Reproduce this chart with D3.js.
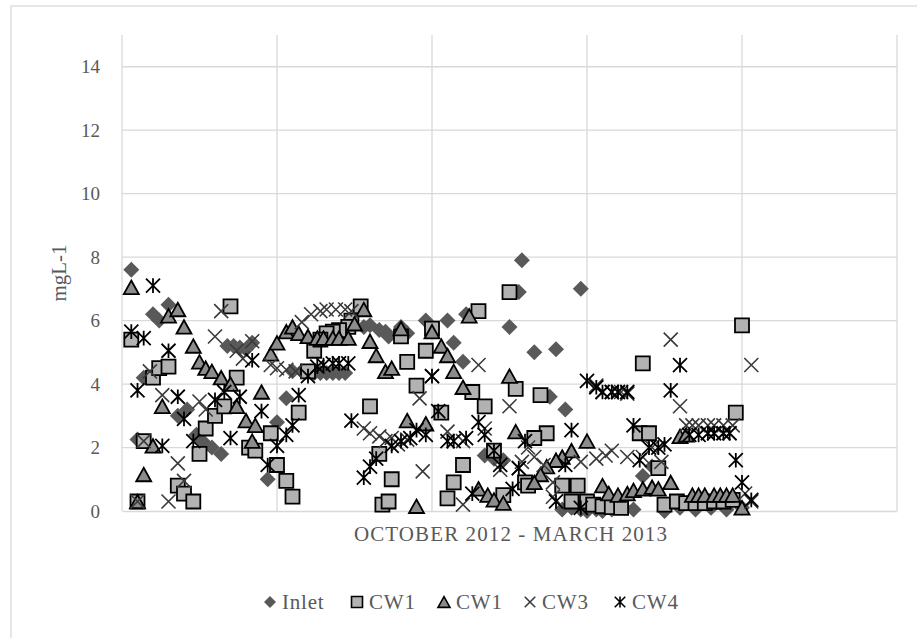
<!DOCTYPE html>
<html>
<head>
<meta charset="utf-8">
<script src="https://cdn.jsdelivr.net/npm/d3@7"></script>
<style>
  body { margin: 0; background: #fff; }
  svg text { font-family: "Liberation Serif", "DejaVu Serif", serif; fill: #595959; }
</style>
</head>
<body>
<svg id="chart" width="917" height="638"></svg>
<script>
// series values as [day, mg/L]
const inlet = [[3,7.6],[5,2.25],[7,4.2],[10,6.2],[12,6.0],[15,6.5],[18,3.0],[21,3.2],[24,2.4],[26,2.2],[29,2.0],[32,1.8],
  [34,5.2],[36,5.2],[38,5.15],[40,5.1],[42,5.3],[47,1.0],[50,2.8],[53,3.55],[55,4.4],[58,4.4],[62,4.35],[64,4.35],[66,4.35],
  [68,4.35],[70,4.35],[72,4.35],[78,5.8],[80,5.85],[83,5.7],[85,5.65],[86,5.5],[90,5.8],[92,5.6],[98,6.0],[105,6.0],[107,5.3],
  [110,4.7],[111,6.2],[117,1.75],[120,1.65],[123,1.6],[125,5.8],[129,7.9],[128,6.9],[133,5.0],[138,3.6],[140,5.1],[143,3.2],
  [148,7.0],[168,1.1],[171,1.4],[142,0.05],[145,0.1],[148,0.05],[150,0.0],[153,0.05],[155,0.0],[158,0.05],[162,0.1],[165,0.05],
  [175,0.0],[180,0.1],[185,0.05],[190,0.1],[195,0.05],[200,0.1]];

const cw1Square = [[3,5.4],[35,6.45],[10,4.2],[12,4.5],[15,4.55],[7,2.2],[5,0.3],[18,0.8],[20,0.55],[23,0.3],[25,1.8],[27,2.6],
  [30,3.0],[33,3.3],[37,4.2],[41,2.0],[60,4.4],[62,5.05],[57,3.1],[48,2.45],[43,1.9],[50,1.45],[53,0.95],[55,0.45],[77,6.45],
  [74,6.0],[73,5.8],[70,5.7],[68,5.65],[66,5.6],[64,5.4],[80,3.3],[83,1.8],[84,0.2],[125,6.9],[115,6.3],[100,5.75],[98,5.05],
  [92,4.7],[90,5.5],[95,3.95],[117,3.3],[127,3.85],[113,3.75],[103,3.1],[110,1.45],[107,0.9],[105,0.4],[87,1.0],[86,0.3],
  [120,1.9],[123,0.5],[130,0.9],[168,4.65],[135,3.65],[137,2.45],[133,2.3],[167,2.45],[170,2.45],[131,0.8],[142,0.8],[147,0.8],
  [145,0.3],[150,0.3],[152,0.2],[155,0.15],[158,0.12],[161,0.1],[200,5.85],[198,3.1],[173,1.35],[175,0.2],[179,0.3],[182,0.25],
  [185,0.25],[188,0.25],[191,0.3],[194,0.3],[197,0.35]];

const cw1Triangle = [[3,7.05],[15,6.15],[18,6.35],[20,5.8],[23,5.2],[25,4.7],[27,4.5],[29,4.4],[32,4.2],[35,4.0],[37,3.3],
  [40,2.85],[42,2.2],[13,3.3],[10,2.05],[7,1.15],[5,0.3],[45,3.75],[48,4.95],[50,5.3],[53,5.65],[55,5.8],[57,5.6],[60,5.5],
  [63,5.45],[65,5.45],[68,5.45],[70,5.45],[73,5.45],[75,5.9],[78,6.35],[80,5.35],[82,4.9],[85,4.4],[43,2.7],[90,5.75],[87,4.5],
  [100,5.65],[103,5.2],[105,4.9],[107,4.4],[110,3.9],[112,6.15],[125,4.25],[92,2.85],[98,2.75],[95,0.15],[127,2.5],[115,0.7],
  [118,0.5],[120,0.35],[123,0.25],[150,2.2],[145,1.9],[142,1.7],[140,1.6],[137,1.4],[135,1.15],[133,0.9],[155,0.8],[157,0.55],
  [160,0.5],[163,0.55],[165,0.65],[168,0.7],[171,0.75],[180,2.35],[182,2.4],[177,0.9],[173,0.7],[184,0.5],[186,0.5],[188,0.5],
  [191,0.5],[193,0.5],[195,0.5],[197,0.5],[200,0.1]];

const cw3 = [[32,6.3],[30,5.5],[9,4.4],[13,3.65],[18,1.5],[20,0.95],[15,0.3],[7,2.2],[5,0.3],[25,3.45],[27,3.2],[37,5.05],
  [39,4.8],[58,5.95],[61,6.2],[64,6.3],[66,6.35],[69,6.35],[72,6.35],[74,6.3],[42,5.35],[48,4.6],[50,4.5],[53,4.45],[56,4.4],
  [78,2.6],[80,2.45],[83,2.35],[85,2.2],[115,4.6],[100,4.25],[96,3.55],[125,3.3],[97,1.25],[87,2.3],[89,2.1],[92,2.25],
  [105,2.5],[110,2.2],[117,2.6],[122,1.3],[128,1.35],[110,0.2],[131,2.0],[133,1.7],[129,1.55],[136,1.45],[139,0.9],[139,0.45],
  [148,1.55],[153,1.65],[156,1.75],[158,1.9],[163,1.7],[168,1.7],[153,3.95],[155,3.75],[158,3.75],[161,3.75],[163,3.7],
  [177,5.4],[203,4.6],[180,3.3],[182,2.7],[184,2.7],[186,2.7],[189,2.7],[191,2.7],[194,2.7],[197,2.7],[171,2.0],[174,1.55],
  [201,0.55],[203,0.3]];

const cw4 = [[10,7.1],[3,5.65],[7,5.45],[15,5.05],[5,3.8],[18,3.6],[20,2.9],[13,2.05],[23,2.2],[30,3.5],[33,3.75],[35,2.3],
  [38,3.6],[45,3.15],[42,4.75],[47,1.45],[50,2.05],[53,2.4],[55,2.7],[57,3.65],[60,4.25],[63,4.55],[65,4.6],[68,4.65],[70,4.65],
  [73,4.65],[74,2.85],[78,1.05],[80,1.4],[82,1.65],[100,4.25],[102,3.15],[87,2.05],[90,2.2],[93,2.3],[95,2.55],[98,2.4],
  [105,2.2],[107,2.2],[111,2.3],[115,2.8],[117,2.4],[120,1.9],[113,0.55],[122,1.45],[126,0.7],[128,1.35],[130,2.2],[145,2.55],
  [143,1.45],[140,0.3],[148,0.1],[150,4.1],[153,3.9],[155,3.75],[158,3.75],[160,3.75],[163,3.75],[165,2.7],[170,2.0],[167,1.6],
  [180,4.6],[177,3.8],[175,2.1],[173,2.0],[183,2.4],[186,2.4],[189,2.45],[191,2.45],[194,2.45],[196,2.45],[198,1.6],[200,0.9],
  [203,0.35]];

const seriesNames = ["Inlet", "CW1", "CW1", "CW3", "CW4"];
const yTicks = [0, 2, 4, 6, 8, 10, 12, 14];
const xTicks = [0, 50, 100, 150, 200, 250];

const svg = d3.select("#chart");
const plot = {left: 122, right: 897, top: 35, bottom: 511};

const x = d3.scaleLinear().domain([0, 250]).range([plot.left, plot.right]);
const y = d3.scaleLinear().domain([0, 15]).range([plot.bottom, plot.top]);

// custom marker shapes, size = width*width
const diamond = {draw(ctx, size) { const r = Math.sqrt(size) / 2;
  ctx.moveTo(0, -r); ctx.lineTo(r, 0); ctx.lineTo(0, r); ctx.lineTo(-r, 0); ctx.closePath(); }};
const square = {draw(ctx, size) { const r = Math.sqrt(size) / 2; ctx.rect(-r, -r, 2 * r, 2 * r); }};
const triangle = {draw(ctx, size) { const r = Math.sqrt(size) / 2, h = r * 0.9;
  ctx.moveTo(0, -h); ctx.lineTo(r, h); ctx.lineTo(-r, h); ctx.closePath(); }};
const times = {draw(ctx, size) { const r = Math.sqrt(size) / 2;
  ctx.moveTo(-r, -r); ctx.lineTo(r, r); ctx.moveTo(-r, r); ctx.lineTo(r, -r); }};
const star = {draw(ctx, size) { const r = Math.sqrt(size) / 2;
  ctx.moveTo(-r, -r); ctx.lineTo(r, r); ctx.moveTo(-r, r); ctx.lineTo(r, -r);
  ctx.moveTo(0, -r * 1.05); ctx.lineTo(0, r * 1.05); }};

const styles = [
  {data: inlet, type: diamond, size: 256, fill: "#595959", stroke: "none", sw: 0, lsize: 144},
  {data: cw1Square, type: square, size: 196, fill: "#b2b2b2", stroke: "#000", sw: 1.8, lsize: 121},
  {data: cw1Triangle, type: triangle, size: 225, fill: "#8c8c8c", stroke: "#000", sw: 1.8, lsize: 144},
  {data: cw3, type: times, size: 196, fill: "none", stroke: "#3a3a3a", sw: 1.6, lsize: 110},
  {data: cw4, type: star, size: 196, fill: "none", stroke: "#000", sw: 1.8, lsize: 110}
];

// outer chart border
svg.append("rect").attr("x", 11).attr("y", 6).attr("width", 920).attr("height", 660)
  .attr("fill", "none").attr("stroke", "#d9d9d9").attr("stroke-width", 1.3);

// gridlines
svg.append("g").selectAll("line").data(yTicks.filter(d => d > 0)).join("line")
  .attr("x1", plot.left).attr("x2", plot.right).attr("y1", d => y(d)).attr("y2", d => y(d))
  .attr("stroke", "#d9d9d9").attr("stroke-width", 1.3);
svg.append("g").selectAll("line").data(xTicks).join("line")
  .attr("x1", d => x(d)).attr("x2", d => x(d)).attr("y1", plot.top).attr("y2", plot.bottom)
  .attr("stroke", "#d9d9d9").attr("stroke-width", 1.3);

// x axis line (no tick labels)
const xAxis = svg.append("g").attr("transform", `translate(0,${plot.bottom})`)
  .call(d3.axisBottom(x).tickValues(xTicks).tickSize(0).tickFormat(""));
xAxis.select(".domain").attr("stroke", "#d9d9d9").attr("stroke-width", 1.3);

// y axis labels
const yAxis = svg.append("g").attr("transform", `translate(${plot.left},0)`)
  .call(d3.axisLeft(y).tickValues(yTicks).tickSize(0).tickPadding(22));
yAxis.select(".domain").remove();
yAxis.selectAll("text").style("font-size", "19px").style("font-family", "'Liberation Serif', serif").attr("fill", "#595959");

// series markers
styles.forEach(s => {
  svg.append("g").selectAll("path").data(s.data).join("path")
    .attr("transform", d => `translate(${x(d[0])},${y(d[1])})`)
    .attr("d", d3.symbol().type(s.type).size(s.size))
    .attr("fill", s.fill).attr("stroke", s.stroke).attr("stroke-width", s.sw);
});

// axis titles
svg.append("text").attr("x", 511).attr("y", 541).attr("text-anchor", "middle")
  .style("font-size", "21px").style("letter-spacing", "1.1px").text("OCTOBER 2012 - MARCH 2013");
svg.append("text").attr("transform", "translate(66,273) rotate(-90)").attr("text-anchor", "middle")
  .style("font-size", "21px").text("mgL-1");

// legend
const legendX = [270, 357, 444, 530, 620];
const legend = svg.append("g");
styles.forEach((s, i) => {
  const g = legend.append("g").attr("transform", `translate(${legendX[i]},602)`);
  g.append("path").attr("d", d3.symbol().type(s.type).size(s.lsize))
    .attr("fill", s.fill).attr("stroke", s.stroke).attr("stroke-width", Math.min(s.sw, 1.6));
  g.append("text").attr("x", 12).attr("y", 7).style("font-size", "21px").style("letter-spacing", "0.8px")
    .text(seriesNames[i]);
});
</script>
</body>
</html>
